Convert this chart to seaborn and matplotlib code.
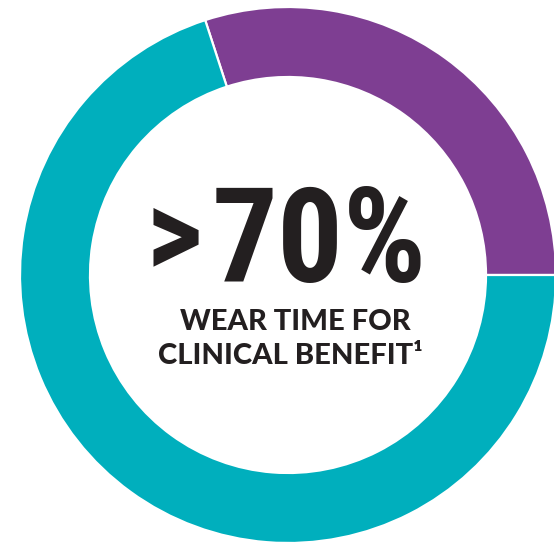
import matplotlib
matplotlib.use("Agg")
import matplotlib.pyplot as plt
from matplotlib import font_manager
import seaborn as sns

# donut data (purple share first, drawn clockwise from the top-left)
segments = ["Below 70% wear time", "Over 70% wear time"]
shares = [30, 70]
seg_colors = ["#7E3E92", "#00AFBD"]
big_text = "70%"
sub_lines = ["WEAR TIME FOR", "CLINICAL BENEFIT\u00b9"]

sns.set_theme(style="white")
names = {f.name for f in font_manager.fontManager.ttflist}


def pick(*cands):
    for c in cands:
        if c in names:
            return c
    return "DejaVu Sans"


narrow = pick("Roboto Condensed", "Liberation Sans Narrow", "DejaVu Sans Condensed", "DejaVu Sans")
wide = pick("Lato", "Open Sans", "DejaVu Sans")
plt.rcParams["font.family"] = [wide, "DejaVu Sans"]

W, H = 554, 546
fig = plt.figure(figsize=(W / 100, H / 100), dpi=100)
ax = fig.add_axes([0, 0, 1, 1])

cx, cy, r = 288, H - 275, 268
ax.pie(shares, colors=seg_colors, startangle=108, counterclock=False,
       center=(cx, cy), radius=r,
       wedgeprops=dict(width=70, edgecolor="white", linewidth=1.6))
ax.set_xlim(0, W)
ax.set_ylim(0, H)
ax.set_aspect("equal")
ax.axis("off")

ink = "#231F20"
ax.text(174, H - 240, ">", fontsize=90, fontweight="bold", family=[narrow, "DejaVu Sans"],
        ha="center", va="center", color=ink)
ax.text(319, H - 246, big_text, fontsize=94, fontweight="bold", family=[narrow, "DejaVu Sans"],
        ha="center", va="center", color=ink)
ax.text(295, H - 322, sub_lines[0], fontsize=21, fontweight="black",
        ha="center", va="center", color=ink)
ax.text(290, H - 356, sub_lines[1], fontsize=21, fontweight="black",
        ha="center", va="center", color=ink)

fig.savefig("out.png", dpi=100)
